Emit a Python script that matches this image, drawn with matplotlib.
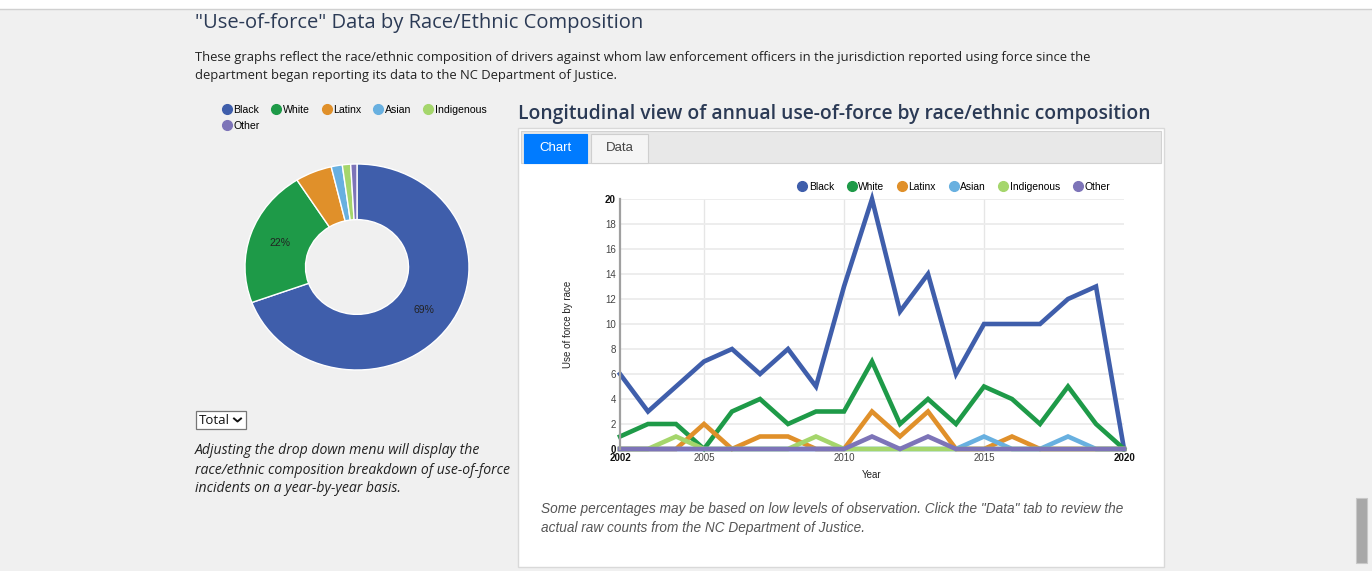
import numpy as np
import matplotlib
matplotlib.use("Agg")
import matplotlib.pyplot as plt
from matplotlib.patches import Rectangle
from matplotlib.lines import Line2D

# data
groups = ["Black", "White", "Latinx", "Asian", "Indigenous", "Other"]
colors = ["#3f5eab", "#1e9a48", "#e0902a", "#68b0e0", "#a5d66c", "#7d74b8"]

years = list(range(2002, 2021))
black = [6, 3, 5, 7, 8, 6, 8, 5, 13, 20, 11, 14, 6, 10, 10, 10, 12, 13, 0]
white = [1, 2, 2, 0, 3, 4, 2, 3, 3, 7, 2, 4, 2, 5, 4, 2, 5, 2, 0]
latinx = [0, 0, 0, 2, 0, 1, 1, 0, 0, 3, 1, 3, 0, 0, 1, 0, 0, 0, 0]
asian = [0, 0, 0, 0, 0, 0, 0, 0, 0, 0, 0, 0, 0, 1, 0, 0, 1, 0, 0]
indigenous = [0, 0, 1, 0, 0, 0, 0, 1, 0, 0, 0, 0, 0, 0, 0, 0, 0, 0, 0]
other = [0, 0, 0, 0, 0, 0, 0, 0, 0, 1, 0, 1, 0, 0, 0, 0, 0, 0, 0]
series = [black, white, latinx, asian, indigenous, other]

# donut shares (percent of total)
pie_share = [69.4, 21.6, 5.3, 1.6, 1.2, 0.9]

W, H = 1372, 571
BG = "#f0f0f0"
HEAD = "#2b3a55"

def fx(x):
    return x / W

def fy(y):
    return 1 - y / H

def box(x, y, w, h):
    return [fx(x), fy(y + h), w / W, h / H]

fig = plt.figure(figsize=(W / 100, H / 100), dpi=100, facecolor=BG)

# page chrome
fig.patches.append(Rectangle((0, fy(9)), 1, 9 / H, transform=fig.transFigure,
                             facecolor="white", edgecolor="none", zorder=-5))
fig.lines.append(Line2D([0, 1], [fy(9), fy(9)], transform=fig.transFigure,
                        color="#d0d0d0", lw=1))
fig.patches.append(Rectangle((fx(1356), fy(563)), 11 / W, 65 / H, transform=fig.transFigure,
                             facecolor="#a8a8a8", edgecolor="#c8c8c8", lw=0.8, zorder=-5))

fig.text(fx(195), fy(23), '"Use-of-force" Data by Race/Ethnic Composition',
         fontsize=14.5, family="Open Sans", color=HEAD, va="center")
fig.text(fx(195), fy(57.5), "These graphs reflect the race/ethnic composition of drivers against whom "
         "law enforcement officers in the jurisdiction reported using force since the",
         fontsize=9.4, family="Open Sans", color="#222222", va="center")
fig.text(fx(195), fy(75.5), "department began reporting its data to the NC Department of Justice.",
         fontsize=9.4, family="Open Sans", color="#222222", va="center")

# ---- donut ----
axp = fig.add_axes(box(245, 164, 224, 206))
axp.set_facecolor("none")

def pct_label(p):
    return "%.0f%%" % p if p >= 10 else ""

wedges, texts, autotexts = axp.pie(pie_share, colors=colors, startangle=90, counterclock=False,
                                   radius=1, autopct=pct_label, pctdistance=0.73,
                                   wedgeprops=dict(width=0.54, edgecolor="white", linewidth=1))
for t in autotexts:
    t.set_fontsize(7.5)
    t.set_family("Liberation Sans")
    t.set_color("#222222")
axp.set_aspect("auto")
axp.set_xlim(-1, 1)
axp.set_ylim(-1, 1)
axp.axis("off")

# legend fills column by column, so put Other right after Black to get it on row 2
order = [0, 5, 1, 2, 3, 4]
handles = [Line2D([], [], marker="o", ls="none", color=colors[i], markersize=7) for i in order]
fig.legend(handles, [groups[i] for i in order], loc="upper left",
           bbox_to_anchor=(fx(220), fy(105)), ncol=5,
           frameon=False, prop={"family": "Liberation Sans", "size": 7.6},
           handletextpad=0.0, columnspacing=0.97, handlelength=1.25, borderpad=0,
           labelspacing=0.55, borderaxespad=0)

# dropdown
fig.patches.append(Rectangle((fx(196), fy(429)), 50 / W, 18 / H, transform=fig.transFigure,
                             facecolor="white", edgecolor="#767676", lw=0.9))
fig.text(fx(199), fy(420), "Total", fontsize=9.5, family="Open Sans", color="#111111", va="center")
fig.lines.append(Line2D([fx(234), fx(237.5), fx(241)], [fy(418.5), fy(421.5), fy(418.5)],
                        transform=fig.transFigure, color="#111111", lw=1.4))

for i, line in enumerate(["Adjusting the drop down menu will display the",
                          "race/ethnic composition breakdown of use-of-force",
                          "incidents on a year-by-year basis."]):
    fig.text(fx(195), fy(451 + 19 * i), line, fontsize=10.1, family="Open Sans",
             style="italic", color="#222222", va="center")

# ---- right card ----
fig.text(fx(518), fy(114), "Longitudinal view of annual use-of-force by race/ethnic composition",
         fontsize=13.85, family="Open Sans", weight="semibold", color=HEAD, va="center")
fig.patches.append(Rectangle((fx(518), fy(567)), 646 / W, 439 / H, transform=fig.transFigure,
                             facecolor="white", edgecolor="#d9d9d9", lw=1))
fig.patches.append(Rectangle((fx(521), fy(163)), 640 / W, 32 / H, transform=fig.transFigure,
                             facecolor="#e8e8e8", edgecolor="#d2d2d2", lw=0.8))
fig.patches.append(Rectangle((fx(524), fy(163)), 63 / W, 29 / H, transform=fig.transFigure,
                             facecolor="#007bff", edgecolor="#007bff", lw=0.8))
fig.patches.append(Rectangle((fx(591), fy(163)), 57 / W, 29 / H, transform=fig.transFigure,
                             facecolor="#f5f5f5", edgecolor="#cfcfcf", lw=0.8))
fig.text(fx(556), fy(148), "Chart", fontsize=9.5, family="Liberation Sans", color="white",
         ha="center", va="center")
fig.text(fx(619.5), fy(148), "Data", fontsize=9.5, family="Liberation Sans", color="#444444",
         ha="center", va="center")

# ---- line chart ----
ax = fig.add_axes(box(620, 199, 504, 250))
ax.set_zorder(5)
ax.set_facecolor("white")
for s, c in zip(series, colors):
    ax.plot(years, s, color=c, lw=3.3, clip_on=False, solid_joinstyle="miter")
ax.set_xlim(2002, 2020)
ax.set_ylim(0, 20)
ax.set_yticks(range(0, 21, 2))
ax.set_xticks([2002, 2005, 2010, 2015, 2020])
ax.grid(axis="y", color="#ececec", lw=1.3)
for xv in [2005, 2010, 2015]:
    ax.axvline(xv, color="#e6e6e6", lw=1, zorder=0)
ax.set_axisbelow(True)
for side in ["top", "right", "bottom"]:
    ax.spines[side].set_visible(False)
ax.spines["left"].set_color("#a0a0a0")
ax.spines["left"].set_linewidth(1.6)
ax.tick_params(length=0, labelsize=7, labelcolor="#444444", pad=3)
for lab in ax.get_xticklabels() + ax.get_yticklabels():
    lab.set_family("Liberation Sans")
for lab in [ax.get_xticklabels()[0], ax.get_xticklabels()[-1],
            ax.get_yticklabels()[0], ax.get_yticklabels()[-1]]:
    lab.set_fontweight("bold")
    lab.set_color("#111111")
ax.set_xlabel("Year", fontsize=7, family="Liberation Sans", color="#222222", labelpad=5)
fig.text(fx(568), fy(324), "Use of force by race", rotation=90, fontsize=7,
         family="Liberation Sans", color="#222222", ha="center", va="center")

handles2 = [Line2D([], [], marker="o", ls="none", color=c, markersize=7) for c in colors]
fig.legend(handles2, groups, loc="center", bbox_to_anchor=(fx(953), fy(187)), ncol=6,
           frameon=False, prop={"family": "Liberation Sans", "size": 7.4},
           handletextpad=0.0, columnspacing=1.1, handlelength=1.25, borderpad=0)

fig.text(fx(541), fy(509), 'Some percentages may be based on low levels of observation. Click the '
         '"Data" tab to review the', fontsize=9.8, family="Liberation Sans", style="italic",
         color="#555555", va="center")
fig.text(fx(541), fy(528), "actual raw counts from the NC Department of Justice.", fontsize=9.8,
         family="Liberation Sans", style="italic", color="#555555", va="center")

fig.savefig("out.png", dpi=100, facecolor=BG)
